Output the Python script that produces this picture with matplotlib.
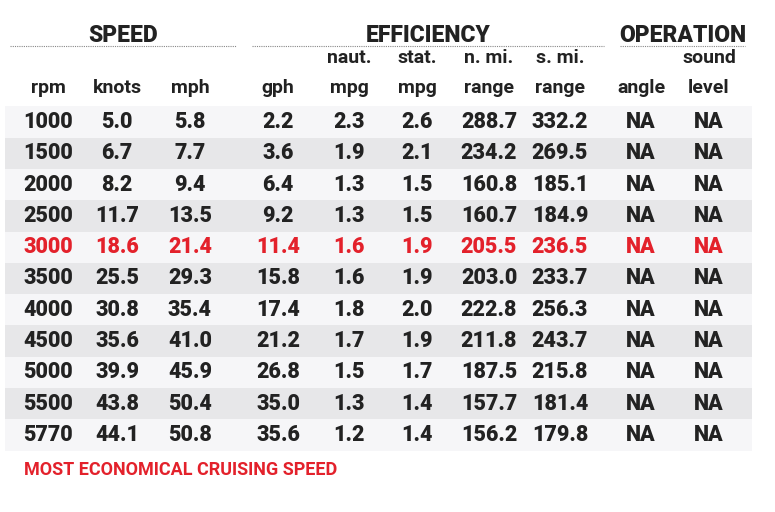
import matplotlib.pyplot as plt

rpm = [1000, 1500, 2000, 2500, 3000, 3500, 4000, 4500, 5000, 5500, 5770]
knots = [5.0, 6.7, 8.2, 11.7, 18.6, 25.5, 30.8, 35.6, 39.9, 43.8, 44.1]
mph = [5.8, 7.7, 9.4, 13.5, 21.4, 29.3, 35.4, 41.0, 45.9, 50.4, 50.8]
gph = [2.2, 3.6, 6.4, 9.2, 11.4, 15.8, 17.4, 21.2, 26.8, 35.0, 35.6]
naut_mpg = [2.3, 1.9, 1.3, 1.3, 1.6, 1.6, 1.8, 1.7, 1.5, 1.3, 1.2]
stat_mpg = [2.6, 2.1, 1.5, 1.5, 1.9, 1.9, 2.0, 1.9, 1.7, 1.4, 1.4]
nmi_range = [288.7, 234.2, 160.8, 160.7, 205.5, 203.0, 222.8, 211.8, 187.5, 157.7, 156.2]
smi_range = [332.2, 269.5, 185.1, 184.9, 236.5, 233.7, 256.3, 243.7, 215.8, 181.4, 179.8]
angle = ["NA"] * 11
sound = ["NA"] * 11
best_rpm = 3000

col_top = ["", "", "", "", "naut.", "stat.", "n. mi.", "s. mi.", "", "sound"]
col_bot = ["rpm", "knots", "mph", "gph", "mpg", "mpg", "range", "range", "angle", "level"]
groups = ["SPEED", "EFFICIENCY", "OPERATION"]

plt.rcParams["font.family"] = ["Roboto", "DejaVu Sans"]
dark = "#222222"
red = "#e3212b"

fig = plt.figure(figsize=(7.75, 5.12), dpi=100)
ax = fig.add_axes([0, 0, 1, 1])
ax.set_xlim(0, 775)
ax.set_ylim(512, 0)
ax.axis("off")

xs = [48, 117, 190, 278, 349, 417, 489, 560, 641, 709]
y0, dy = 122, 31.3

# group headers with dotted rules
for name, (x1, x2) in zip(groups, [(10, 236), (252, 604), (620, 745)]):
    ax.text((x1 + x2) / 2, 35, name, ha="center", va="center",
            fontsize=16.5, fontweight="heavy", color=dark)
    ax.plot([x1, x2], [46, 46], color="#888888", lw=0.8, ls=(0, (1, 1)))

for x, t, b in zip(xs, col_top, col_bot):
    if t:
        ax.text(x, 58, t, ha="center", va="center", fontsize=14,
                fontweight="bold", color=dark)
    ax.text(x, 88, b, ha="center", va="center", fontsize=14,
            fontweight="bold", color=dark)

cols = [rpm, knots, mph, gph, naut_mpg, stat_mpg, nmi_range, smi_range, angle, sound]
for i, r in enumerate(rpm):
    y = y0 + i * dy
    ax.axhspan(y - dy / 2, y + dy / 2, xmin=5 / 775, xmax=752 / 775,
               color="#f6f6f8" if i % 2 == 0 else "#e7e7e9", lw=0, zorder=0)
    c = red if r == best_rpm else dark
    for x, col in zip(xs, cols):
        v = col[i]
        s = v if isinstance(v, str) else (str(v) if isinstance(v, int) else f"{v:.1f}")
        ax.text(x, y, s, ha="center", va="center", fontsize=15.5,
                fontweight="heavy", color=c)

ax.text(24, 470, "MOST ECONOMICAL CRUISING SPEED", ha="left", va="center",
        fontsize=13, fontweight="bold", color=red)

fig.savefig("out.png", dpi=100, facecolor="white")
